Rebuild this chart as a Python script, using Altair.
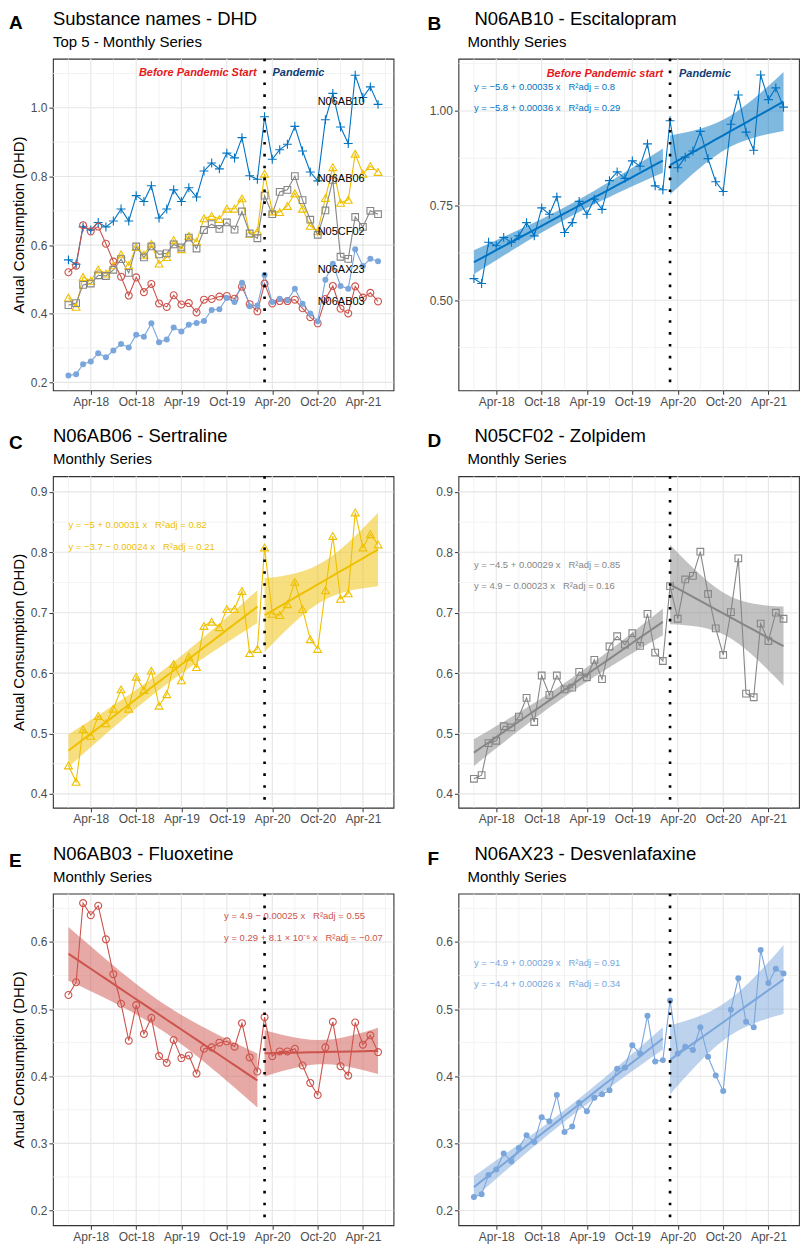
import altair as alt
import numpy as np
import pandas as pd

# ---------------- data ----------------
months = list(pd.date_range("2018-01-01", "2021-06-01", freq="MS"))
pandemic_start = pd.Timestamp("2020-03-01")

codes = ["N06AB10", "N06AB06", "N05CF02", "N06AB03", "N06AX23"]
names = ["Escitalopram", "Sertraline", "Zolpidem", "Fluoxetine", "Desvenlafaxine"]
colors = ["#0073C2", "#EFC000", "#868686", "#CD534C", "#7AA6DC"]

n06ab10 = [0.557, 0.544, 0.653, 0.644, 0.666, 0.653, 0.670, 0.705, 0.670, 0.744, 0.727, 0.773,
           0.679, 0.705, 0.761, 0.727, 0.767, 0.740, 0.816, 0.839, 0.822, 0.868, 0.854, 0.913,
           0.802, 0.792, 0.974, 0.850, 0.878, 0.894, 0.946, 0.874, 0.813, 0.787, 0.965, 1.042,
           0.944, 0.896, 1.095, 1.030, 1.061, 1.010]
n06ab06 = [0.447, 0.420, 0.507, 0.496, 0.529, 0.517, 0.541, 0.573, 0.541, 0.594, 0.572, 0.604,
           0.546, 0.565, 0.615, 0.588, 0.627, 0.610, 0.678, 0.685, 0.676, 0.706, 0.706, 0.736,
           0.633, 0.640, 0.808, 0.698, 0.696, 0.714, 0.751, 0.706, 0.656, 0.640, 0.737, 0.827,
           0.723, 0.732, 0.866, 0.808, 0.830, 0.813]
n05cf02 = [0.425, 0.431, 0.484, 0.488, 0.512, 0.510, 0.528, 0.559, 0.519, 0.596, 0.564, 0.596,
           0.573, 0.576, 0.602, 0.593, 0.622, 0.590, 0.644, 0.661, 0.647, 0.666, 0.645, 0.698,
           0.634, 0.620, 0.744, 0.690, 0.755, 0.761, 0.801, 0.731, 0.674, 0.630, 0.701, 0.790,
           0.566, 0.560, 0.682, 0.653, 0.700, 0.690]
n06ab03 = [0.521, 0.540, 0.658, 0.640, 0.654, 0.604, 0.552, 0.508, 0.453, 0.506, 0.463, 0.487,
           0.430, 0.420, 0.454, 0.427, 0.431, 0.404, 0.441, 0.443, 0.450, 0.452, 0.444, 0.479,
           0.428, 0.407, 0.488, 0.430, 0.437, 0.437, 0.441, 0.416, 0.390, 0.372, 0.443, 0.481,
           0.415, 0.401, 0.480, 0.447, 0.461, 0.436]
n06ax23 = [0.220, 0.224, 0.253, 0.261, 0.285, 0.273, 0.293, 0.312, 0.302, 0.339, 0.333, 0.372,
           0.317, 0.325, 0.360, 0.348, 0.368, 0.373, 0.379, 0.411, 0.413, 0.446, 0.434, 0.490,
           0.422, 0.424, 0.513, 0.434, 0.444, 0.439, 0.473, 0.429, 0.401, 0.378, 0.499, 0.546,
           0.481, 0.473, 0.588, 0.539, 0.560, 0.553]
series = dict(zip(codes, [n06ab10, n06ab06, n05cf02, n06ab03, n06ax23]))

# end-of-series labels in panel A (code, y position)
label_codes = ["N06AB10", "N06AB06", "N05CF02", "N06AX23", "N06AB03"]
label_values = [1.016, 0.793, 0.639, 0.527, 0.434]

x_major = ["2018-04-01", "2018-10-01", "2019-04-01", "2019-10-01", "2020-04-01", "2020-10-01", "2021-04-01"]
x_minor = ["2018-01-01", "2018-07-01", "2019-01-01", "2019-07-01", "2020-01-01", "2020-07-01",
           "2021-01-01", "2021-07-01"]

SP = "\u00a0\u00a0\u00a0"
equations = {
    "N06AB10": [f"y = −5.6 + 0.00035 x{SP}R²adj = 0.8", f"y = −5.8 + 0.00036 x{SP}R²adj = 0.29"],
    "N06AB06": [f"y = −5 + 0.00031 x{SP}R²adj = 0.82", f"y = −3.7 − 0.00024 x{SP}R²adj = 0.21"],
    "N05CF02": [f"y = −4.5 + 0.00029 x{SP}R²adj = 0.85", f"y = 4.9 − 0.00023 x{SP}R²adj = 0.16"],
    "N06AB03": [f"y = 4.9 − 0.00025 x{SP}R²adj = 0.55", f"y = 0.29 + 8.1 × 10⁻⁶ x{SP}R²adj = −0.07"],
    "N06AX23": [f"y = −4.9 + 0.00029 x{SP}R²adj = 0.91", f"y = −4.4 + 0.00026 x{SP}R²adj = 0.34"],
}

# ---------------- styling ----------------
FONT = "Liberation Sans"
W, H = 341, 332
PLUS = "M-1,0L1,0M0,-1L0,1"
markers = {
    "N06AB10": dict(shape=PLUS, filled=False, size=80),
    "N06AB06": dict(shape="triangle-up", filled=False, size=62),
    "N05CF02": dict(shape="square", filled=False, size=45),
    "N06AB03": dict(shape="circle", filled=False, size=48),
    "N06AX23": dict(shape="circle", filled=True, size=36),
}
col = dict(zip(codes, colors))

span = months[-1] - months[0]
XLO = months[0] - span * 0.05
XHI = months[-1] + span * 0.05


def dt(ts):
    ts = pd.Timestamp(ts)
    return alt.DateTime(year=ts.year, month=ts.month, date=ts.day, hours=ts.hour, minutes=ts.minute)


def xenc():
    return alt.X("date:T", scale=alt.Scale(domain=[dt(XLO), dt(XHI)]),
                 axis=alt.Axis(values=[dt(d) for d in x_major], format="%b-%y", title=None,
                               grid=False, domain=False, tickSize=4, labelPadding=2,
                               labelFlush=False, labelOverlap=False))


def yenc(field, yc, title):
    return alt.Y(f"{field}:Q", scale=alt.Scale(domain=yc["dom"], nice=False, zero=False),
                 axis=alt.Axis(values=yc["maj"], format=yc["fmt"], title=title, grid=False,
                               domain=False, tickSize=4, labelPadding=2, titlePadding=4))


YA = dict(dom=[0.177, 1.143], maj=[0.2, 0.4, 0.6, 0.8, 1.0], mnr=[0.3, 0.5, 0.7, 0.9, 1.1], fmt=".1f")
YB = dict(dom=[0.262, 1.138], maj=[0.5, 0.75, 1.0], mnr=[0.375, 0.625, 0.875, 1.125], fmt=".2f")
YC = dict(dom=[0.377, 0.926], maj=[0.4, 0.5, 0.6, 0.7, 0.8, 0.9], mnr=[0.45, 0.55, 0.65, 0.75, 0.85], fmt=".1f")
YE = dict(dom=[0.178, 0.672], maj=[0.2, 0.3, 0.4, 0.5, 0.6], mnr=[0.25, 0.35, 0.45, 0.55, 0.65], fmt=".1f")

YTITLE = "Anual Consumption (DHD)"


def grid_layers(yc, ytitle):
    X = xenc()
    return [
        alt.Chart(pd.DataFrame({"date": pd.to_datetime(x_minor)})).mark_rule(color="#EEEEEE", strokeWidth=0.7).encode(x=X),
        alt.Chart(pd.DataFrame({"date": pd.to_datetime(x_major)})).mark_rule(color="#E6E6E6", strokeWidth=1.1).encode(x=X),
        alt.Chart(pd.DataFrame({"value": yc["mnr"]})).mark_rule(color="#EEEEEE", strokeWidth=0.7).encode(y=yenc("value", yc, ytitle)),
        alt.Chart(pd.DataFrame({"value": yc["maj"]})).mark_rule(color="#E6E6E6", strokeWidth=1.1).encode(y=yenc("value", yc, ytitle)),
    ]


def head_layers(letter, title, subtitle, letter_x, letter_y, title_x, sub_x):
    one = pd.DataFrame({"t": [0]})
    return [
        alt.Chart(one).mark_text(text=letter, align="left", baseline="alphabetic", fontSize=19,
                                 fontWeight="bold", color="black", font=FONT).encode(x=alt.value(letter_x), y=alt.value(letter_y)),
        alt.Chart(one).mark_text(text=title, align="left", baseline="alphabetic", fontSize=18.5,
                                 color="black", font=FONT).encode(x=alt.value(title_x), y=alt.value(-34)),
        alt.Chart(one).mark_text(text=subtitle, align="left", baseline="alphabetic", fontSize=15,
                                 color="black", font=FONT).encode(x=alt.value(sub_x), y=alt.value(-12)),
    ]


def vline_layer():
    return alt.Chart(pd.DataFrame({"date": [pandemic_start]})).mark_rule(
        color="black", strokeWidth=2.6, strokeDash=[2.6, 9.3], strokeCap="butt").encode(x=xenc())


def period_labels(yc, ytitle, ytext, before_text, dxl, dxr):
    d = pd.DataFrame({"date": [pandemic_start], "value": [ytext]})
    X, Y = xenc(), yenc("value", yc, ytitle)
    return [
        alt.Chart(d).mark_text(text=before_text, align="right", baseline="middle", dx=dxl, fontSize=11,
                               fontWeight="bold", fontStyle="italic", color="#E3191C", font=FONT).encode(x=X, y=Y),
        alt.Chart(d).mark_text(text="Pandemic", align="left", baseline="middle", dx=dxr, fontSize=11,
                               fontWeight="bold", fontStyle="italic", color="#0D3B75", font=FONT).encode(x=X, y=Y),
    ]


def points_layers(code, yc, ytitle):
    d = pd.DataFrame({"date": months, "value": series[code]})
    X, Y = xenc(), yenc("value", yc, ytitle)
    m = markers[code]
    line = alt.Chart(d).mark_line(color=col[code], strokeWidth=1.1).encode(x=X, y=Y)
    pts = alt.Chart(d).mark_point(shape=m["shape"], filled=m["filled"], size=m["size"], color=col[code],
                                  strokeWidth=1.1, opacity=1).encode(x=X, y=Y)
    return line, pts


def fit_frame(vals):
    df = pd.DataFrame({"date": months, "value": vals})
    df["seg"] = np.where(df["date"] < pandemic_start, "pre", "post")
    out = []
    for seg, t in (("pre", 2.0639), ("post", 2.1448)):
        d = df[df["seg"] == seg].copy()
        x = (d["date"] - pd.Timestamp("1970-01-01")).dt.days.to_numpy(float)
        y = d["value"].to_numpy(float)
        xc = x - x.mean()
        sxx = (xc ** 2).sum()
        b = (xc * y).sum() / sxx
        fit = y.mean() + b * xc
        s = np.sqrt(((y - fit) ** 2).sum() / (len(y) - 2))
        se = s * np.sqrt(1.0 / len(y) + xc ** 2 / sxx)
        d["fit"] = fit
        d["lo"] = fit - t * se
        d["hi"] = fit + t * se
        out.append(d)
    return pd.concat(out)


# ---------------- panel A ----------------
layersA = grid_layers(YA, YTITLE)
lines, pts = [], []
for c in codes:
    l, p = points_layers(c, YA, YTITLE)
    lines.append(l)
    pts.append(p)
layersA += lines + pts
lab = pd.DataFrame({"date": [pd.Timestamp("2020-10-01")] * len(label_codes), "value": label_values,
                    "code": label_codes})
layersA.append(alt.Chart(lab).mark_text(align="left", baseline="middle", fontSize=11, color="black", font=FONT)
               .encode(x=xenc(), y=yenc("value", YA, YTITLE), text="code:N"))
layersA += period_labels(YA, YTITLE, 1.10, "Before Pandemic Start", -8, 8)
layersA.append(vline_layer())
layersA += head_layers("A", "Substance names - DHD", "Top 5 - Monthly Series", -44, -30, 0, 0)
panelA = alt.layer(*layersA).properties(width=W, height=H)


# ---------------- single-substance panels ----------------
def single_panel(code, letter, yc, ytitle, eq_date, eq_vals, left_col, extra=None):
    c = col[code]
    ff = fit_frame(series[code])
    X = xenc()
    layers = grid_layers(yc, ytitle)
    layers.append(alt.Chart(ff).mark_area(color=c, opacity=0.5).encode(
        x=X, y=yenc("lo", yc, ytitle), y2="hi:Q", detail="seg:N"))
    l, p = points_layers(code, yc, ytitle)
    layers += [l, p]
    layers.append(alt.Chart(ff).mark_line(color=c, strokeWidth=2).encode(
        x=X, y=yenc("fit", yc, ytitle), detail="seg:N"))
    eq = pd.DataFrame({"date": [pd.Timestamp(eq_date)] * 2, "value": eq_vals, "txt": equations[code]})
    layers.append(alt.Chart(eq).mark_text(align="left", baseline="middle", fontSize=9.5, color=c, font=FONT)
                  .encode(x=X, y=yenc("value", yc, ytitle), text="txt:N"))
    if extra:
        layers += extra
    layers.append(vline_layer())
    name = names[codes.index(code)]
    if left_col:
        layers += head_layers(letter, f"{code} - {name}", "Monthly Series", -44, -27, 0, 0)
    else:
        layers += head_layers(letter, f"{code} - {name}", "Monthly Series", -31, -29, 16, 9)
    return alt.layer(*layers).properties(width=W, height=H)


panelB = single_panel("N06AB10", "B", YB, None, "2018-01-01", [1.0625, 1.008], False,
                      extra=period_labels(YB, None, 1.097, "Before Pandemic start", -7, 9))
panelC = single_panel("N06AB06", "C", YC, YTITLE, "2018-01-01", [0.845, 0.808], True)
panelD = single_panel("N05CF02", "D", YC, None, "2018-01-01", [0.779, 0.744], False)
panelE = single_panel("N06AB03", "E", YE, YTITLE, "2019-09-20", [0.638, 0.606], True)
panelF = single_panel("N06AX23", "F", YE, None, "2018-01-01", [0.569, 0.537], False)

chart = alt.concat(panelA, panelB, panelC, panelD, panelE, panelF, columns=2,
                   spacing={"row": 86, "column": 65}, bounds="flush").properties(
    padding=0
).configure(font=FONT).configure_view(stroke="#333333", strokeWidth=1.1).configure_axis(
    labelFont=FONT, titleFont=FONT, labelFontSize=12, labelColor="#4D4D4D", tickColor="#333333",
    tickWidth=1, titleFontSize=15, titleFontWeight="normal", titleColor="#000000"
)

chart.save("out.html", embed_options={"renderer": "svg", "actions": False})
